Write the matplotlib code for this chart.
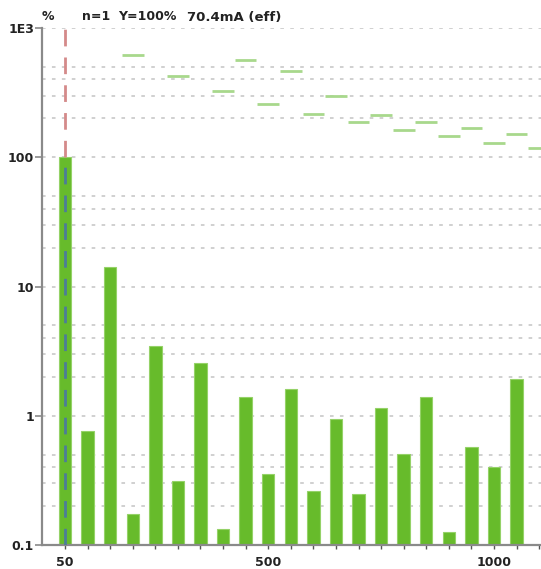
import matplotlib.pyplot as plt
from matplotlib.ticker import FixedLocator, NullLocator

# harmonic spectrum (percent of fundamental)
freq = [50, 100, 150, 200, 250, 300, 350, 400, 450, 500, 550,
        600, 650, 700, 750, 800, 850, 900, 950, 1000, 1050]
level = [100, 0.765, 14.1, 0.173, 3.48, 0.31, 2.56, 0.133, 1.40, 0.356, 1.62,
         0.263, 0.95, 0.249, 1.14, 0.505, 1.40, 0.127, 0.575, 0.398, 1.94]

# limit values
lim_freq = [200, 300, 400, 450, 500, 550, 600, 650, 700, 750, 800,
            850, 900, 950, 1000, 1050, 1100]
lim_level = [616, 426, 326, 570, 260, 463, 215, 297, 189, 211, 163,
             189, 145, 168, 129, 152, 117]

x_labels = {50: '50', 500: '500', 1000: '1000'}
y_ticks = [0.1, 1, 10, 100, 1000]
y_labels = ['0.1', '1', '10', '100', '1E3']

fig = plt.figure(figsize=(5.41, 5.69), dpi=100)
ax = fig.add_axes([42.4 / 541, 24 / 569, (541 - 42.4) / 541, (545 - 28) / 569])

ax.set_yscale('log')
ax.set_ylim(0.1, 1000)
ax.set_xlim(0, 1104)

# grid at 1..5 of every decade
grid_vals = [m * 10.0 ** e for e in range(-1, 3) for m in (2, 3, 4, 5)] + [1, 10, 100, 1000]
for g in grid_vals:
    ax.axhline(g, color='#cdcdcd', lw=1.3, ls=(0, (2, 3.5)), zorder=0)

base = 0.1
ax.bar(freq, [v - base for v in level], width=27.5, bottom=base, color='#67bb2b',
       edgecolor='#95d268', linewidth=0.8, zorder=2)

ax.hlines(lim_level, [f - 24 for f in lim_freq], [f + 24 for f in lim_freq],
          color='#a8d88c', lw=2, zorder=3)

# cursor at fundamental
ax.plot([50, 50], [level[0], 1000], color='#d48a8a', lw=2, ls=(0, (6, 4)), zorder=4)
ax.plot([50, 50], [0.1, level[0]], color='#4d7d98', lw=2, ls=(0, (6, 4)), zorder=4)

for s in ['top', 'right']:
    ax.spines[s].set_visible(False)
for s in ['left', 'bottom']:
    ax.spines[s].set_color('#8a8a8a')
    ax.spines[s].set_linewidth(1.6)

ax.yaxis.set_major_locator(FixedLocator(y_ticks))
ax.yaxis.set_minor_locator(NullLocator())
ax.set_yticklabels(y_labels)
ax.set_xticks(range(50, 1101, 50))
ax.set_xticklabels([x_labels.get(v, '') for v in range(50, 1101, 50)])
ax.tick_params(axis='y', length=5, width=1.2, color='#8a8a8a', pad=1)
ax.tick_params(axis='x', length=3, width=1.0, color='#555555', pad=5)
for t in ax.get_xticklabels() + ax.get_yticklabels():
    t.set_fontweight('bold')
    t.set_fontsize(9)
    t.set_color('#222222')

ty = 1 - 17 / 569
fig.text(42 / 541, ty, '%', fontsize=9, fontweight='bold', va='center', color='#222222')
fig.text(82 / 541, ty, 'n=1', fontsize=9, fontweight='bold', va='center', color='#222222')
fig.text(118 / 541, ty, 'Y=100%', fontsize=9, fontweight='bold', va='center', color='#222222')
fig.text(187 / 541, ty, '70.4mA (eff)', fontsize=9.5, fontweight='bold', va='center', color='#222222')

fig.savefig('out.png', dpi=100)
